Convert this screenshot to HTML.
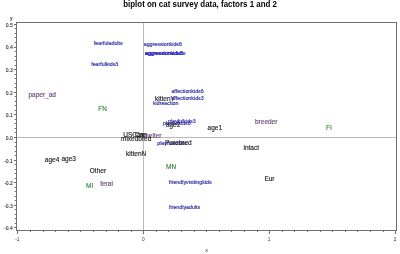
<!DOCTYPE html><html><head><meta charset="utf-8"><style>html,body{margin:0;padding:0;background:#fff;}svg{display:block;filter:blur(0.5px);}text{font-family:"Liberation Sans",sans-serif;}</style></head><body>
<svg width="400" height="254" viewBox="0 0 400 254">
<rect width="400" height="254" fill="#fff"/>
<text x="123.2" y="6.7" font-size="8.3" font-weight="bold" textLength="153.8" lengthAdjust="spacingAndGlyphs" fill="#000">biplot on cat survey data, factors 1 and 2</text>
<line x1="16.5" y1="137.5" x2="396.5" y2="137.5" stroke="#bababa" stroke-width="1"/>
<line x1="143.5" y1="22.5" x2="143.5" y2="230.5" stroke="#bababa" stroke-width="1"/>
<rect x="16.5" y="22.5" width="380" height="208" fill="none" stroke="#6e6e6e" stroke-width="1"/>
<path d="M13.90 227.50H16.5 M14.70 223.50H16.5 M14.70 218.50H16.5 M14.70 214.50H16.5 M14.70 209.50H16.5 M13.90 205.50H16.5 M14.70 200.50H16.5 M14.70 196.50H16.5 M14.70 191.50H16.5 M14.70 187.50H16.5 M13.90 182.50H16.5 M14.70 178.50H16.5 M14.70 173.50H16.5 M14.70 169.50H16.5 M14.70 164.50H16.5 M13.90 160.50H16.5 M14.70 155.50H16.5 M14.70 151.50H16.5 M14.70 146.50H16.5 M14.70 142.50H16.5 M13.90 137.50H16.5 M14.70 132.50H16.5 M14.70 128.50H16.5 M14.70 123.50H16.5 M14.70 119.50H16.5 M13.90 114.50H16.5 M14.70 110.50H16.5 M14.70 105.50H16.5 M14.70 101.50H16.5 M14.70 96.50H16.5 M13.90 92.50H16.5 M14.70 87.50H16.5 M14.70 83.50H16.5 M14.70 78.50H16.5 M14.70 74.50H16.5 M13.90 69.50H16.5 M14.70 65.50H16.5 M14.70 60.50H16.5 M14.70 56.50H16.5 M14.70 51.50H16.5 M13.90 47.50H16.5 M14.70 42.50H16.5 M14.70 37.50H16.5 M14.70 33.50H16.5 M14.70 28.50H16.5 M13.90 24.50H16.5 M17.50 230.5V234.10 M30.50 230.5V232.00 M43.50 230.5V232.00 M55.50 230.5V232.00 M68.50 230.5V232.00 M80.50 230.5V232.00 M93.50 230.5V232.00 M106.50 230.5V232.00 M118.50 230.5V232.00 M131.50 230.5V232.00 M143.50 230.5V234.10 M156.50 230.5V232.00 M168.50 230.5V232.00 M181.50 230.5V232.00 M194.50 230.5V232.00 M206.50 230.5V232.00 M219.50 230.5V232.00 M231.50 230.5V232.00 M244.50 230.5V232.00 M257.50 230.5V232.00 M269.50 230.5V234.10 M282.50 230.5V232.00 M294.50 230.5V232.00 M307.50 230.5V232.00 M320.50 230.5V232.00 M332.50 230.5V232.00 M345.50 230.5V232.00 M357.50 230.5V232.00 M370.50 230.5V232.00 M383.50 230.5V232.00 M395.50 230.5V234.10" stroke="#6e6e6e" stroke-width="1" fill="none"/>
<text x="12.8" y="230.38" font-size="5.0" text-anchor="end" fill="#333" stroke="#333" stroke-width="0.12">-0.4</text>
<text x="12.8" y="207.76" font-size="5.0" text-anchor="end" fill="#333" stroke="#333" stroke-width="0.12">-0.3</text>
<text x="12.8" y="185.14" font-size="5.0" text-anchor="end" fill="#333" stroke="#333" stroke-width="0.12">-0.2</text>
<text x="12.8" y="162.52" font-size="5.0" text-anchor="end" fill="#333" stroke="#333" stroke-width="0.12">-0.1</text>
<text x="12.8" y="139.90" font-size="5.0" text-anchor="end" fill="#333" stroke="#333" stroke-width="0.12">0.0</text>
<text x="12.8" y="117.28" font-size="5.0" text-anchor="end" fill="#333" stroke="#333" stroke-width="0.12">0.1</text>
<text x="12.8" y="94.66" font-size="5.0" text-anchor="end" fill="#333" stroke="#333" stroke-width="0.12">0.2</text>
<text x="12.8" y="72.04" font-size="5.0" text-anchor="end" fill="#333" stroke="#333" stroke-width="0.12">0.3</text>
<text x="12.8" y="49.42" font-size="5.0" text-anchor="end" fill="#333" stroke="#333" stroke-width="0.12">0.4</text>
<text x="12.8" y="26.80" font-size="5.0" text-anchor="end" fill="#333" stroke="#333" stroke-width="0.12">0.5</text>
<text x="17.40" y="241.3" font-size="4.8" text-anchor="middle" fill="#333">-1</text>
<text x="143.30" y="241.3" font-size="4.8" text-anchor="middle" fill="#333">0</text>
<text x="269.20" y="241.3" font-size="4.8" text-anchor="middle" fill="#333">1</text>
<text x="395.10" y="241.3" font-size="4.8" text-anchor="middle" fill="#333">2</text>
<text x="11.2" y="20.2" font-size="5.2" text-anchor="middle" fill="#333" stroke="#333" stroke-width="0.12">y</text>
<text x="206.5" y="252.4" font-size="5.4" text-anchor="middle" fill="#333">x</text>
<text x="93.80" y="45.31" font-size="5.3" fill="#2e2ea6" stroke="#2e2ea6" stroke-width="0.16">fearfuladults</text>
<text x="91.20" y="66.11" font-size="5.3" fill="#2e2ea6" stroke="#2e2ea6" stroke-width="0.16">fearfulkids3</text>
<text x="143.70" y="46.31" font-size="5.3" fill="#2e2ea6" stroke="#2e2ea6" stroke-width="0.16">aggressionkids6</text>
<text x="144.70" y="54.91" font-size="5.3" fill="#2020c0" stroke="#2020c0" stroke-width="0.16">aggressionkids3</text>
<text x="145.30" y="54.91" font-size="5.3" fill="#2020c0" stroke="#2020c0" stroke-width="0.16">aggressionadults</text>
<text x="28.50" y="97.14" font-size="6.5" fill="#6a4a7c" stroke="#6a4a7c" stroke-width="0.15">paper_ad</text>
<text x="98.30" y="110.84" font-size="6.5" fill="#3d873d" stroke="#3d873d" stroke-width="0.15">FN</text>
<text x="171.40" y="92.81" font-size="5.3" fill="#2e2ea6" stroke="#2e2ea6" stroke-width="0.16">affectionkids6</text>
<text x="155.00" y="101.04" font-size="6.5" fill="#1e1e1e" stroke="#1e1e1e" stroke-width="0.15">kittenY</text>
<text x="171.40" y="100.01" font-size="5.3" fill="#2e2ea6" stroke="#2e2ea6" stroke-width="0.16">affectionkids3</text>
<text x="152.90" y="105.41" font-size="5.3" fill="#2e2ea6" stroke="#2e2ea6" stroke-width="0.16">kidreaction</text>
<text x="163.00" y="124.71" font-size="5.3" fill="#2e2ea6" stroke="#2e2ea6" stroke-width="0.16">playfulkids6</text>
<text x="168.00" y="122.91" font-size="5.3" fill="#2e2ea6" stroke="#2e2ea6" stroke-width="0.16">playfulkids3</text>
<text x="165.80" y="127.24" font-size="6.5" fill="#1e1e1e" stroke="#1e1e1e" stroke-width="0.15">age2</text>
<text x="207.60" y="129.54" font-size="6.5" fill="#1e1e1e" stroke="#1e1e1e" stroke-width="0.15">age1</text>
<text x="255.00" y="123.54" font-size="6.5" fill="#6a4a7c" stroke="#6a4a7c" stroke-width="0.15">breeder</text>
<text x="326.00" y="130.44" font-size="6.5" fill="#3d873d" stroke="#3d873d" stroke-width="0.15">FI</text>
<text x="123.20" y="137.04" font-size="6.5" fill="#1e1e1e" stroke="#1e1e1e" stroke-width="0.15">USCan</text>
<text x="142.00" y="137.74" font-size="6.5" fill="#6a4a7c" stroke="#6a4a7c" stroke-width="0.15">shelter</text>
<text x="121.00" y="140.94" font-size="6.5" fill="#1e1e1e" stroke="#1e1e1e" stroke-width="0.15">mixedbred</text>
<text x="135.00" y="137.14" font-size="6.5" fill="#1e1e1e" stroke="#1e1e1e" stroke-width="0.15">Can</text>
<text x="157.20" y="144.51" font-size="5.3" fill="#2e2ea6" stroke="#2e2ea6" stroke-width="0.16">playfuladults</text>
<text x="165.00" y="144.74" font-size="6.5" fill="#1e1e1e" stroke="#1e1e1e" stroke-width="0.15">Purebred</text>
<text x="243.50" y="149.64" font-size="6.5" fill="#1e1e1e" stroke="#1e1e1e" stroke-width="0.15">intact</text>
<text x="126.00" y="156.09" font-size="6.5" fill="#1e1e1e" stroke="#1e1e1e" stroke-width="0.15">kittenN</text>
<text x="44.80" y="162.09" font-size="6.5" fill="#1e1e1e" stroke="#1e1e1e" stroke-width="0.15">age4</text>
<text x="61.50" y="160.54" font-size="6.5" fill="#1e1e1e" stroke="#1e1e1e" stroke-width="0.15">age3</text>
<text x="89.80" y="172.84" font-size="6.5" fill="#1e1e1e" stroke="#1e1e1e" stroke-width="0.15">Other</text>
<text x="166.00" y="169.04" font-size="6.5" fill="#3d873d" stroke="#3d873d" stroke-width="0.15">MN</text>
<text x="264.40" y="181.34" font-size="6.5" fill="#1e1e1e" stroke="#1e1e1e" stroke-width="0.15">Eur</text>
<text x="169.00" y="184.31" font-size="5.3" fill="#2e2ea6" stroke="#2e2ea6" stroke-width="0.16">friendlyvisitingkids</text>
<text x="86.00" y="188.14" font-size="6.5" fill="#3d873d" stroke="#3d873d" stroke-width="0.15">MI</text>
<text x="100.20" y="185.84" font-size="6.5" fill="#6a4a7c" stroke="#6a4a7c" stroke-width="0.15">feral</text>
<text x="169.00" y="209.31" font-size="5.3" fill="#2e2ea6" stroke="#2e2ea6" stroke-width="0.16">friendlyadults</text>
</svg></body></html>
